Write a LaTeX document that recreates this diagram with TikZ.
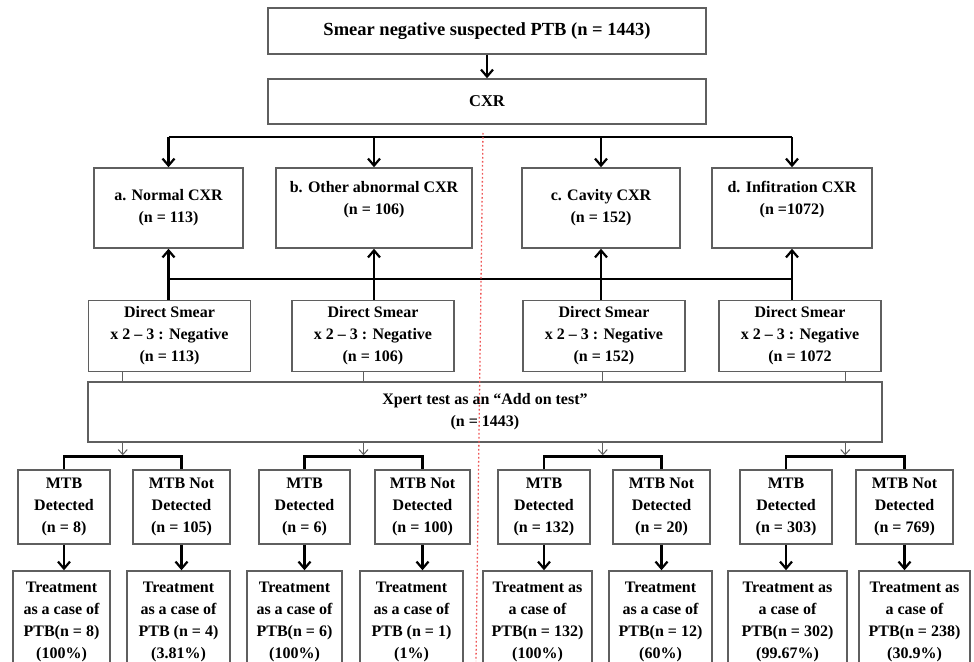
\documentclass[tikz,border=0pt]{standalone}
\usepackage{xcolor}
\usepackage{fontspec}
\setmainfont{Liberation Serif}
\usepackage{tikz}
\usetikzlibrary{arrows.meta}
\usetikzlibrary{calc,positioning}

\definecolor{boxgray}{RGB}{95,95,95}
\definecolor{splitred}{RGB}{238,85,85}

\tikzset{
    box/.style={draw=boxgray, line width=1.5pt, align=center, inner sep=2pt,
        font=\bfseries\fontsize{16}{22}\selectfont},
    boxtext/.style={align=center, font=\bfseries\fontsize{16}{22}\selectfont},
    link/.style={line width=2.6pt},
    flow/.style={line width=2.6pt, -{Straight Barb[length=7pt,width=12pt,line width=2.2pt]}},
    feed/.style={draw=boxgray, line width=1pt},
    feedarrow/.style={feed, -{Straight Barb[length=5pt,width=9pt,line width=1pt]}},
}

\begin{document}
\begin{tikzpicture}[x=1pt,y=-1pt]

    \useasboundingbox (0,0) rectangle (974,661);
    \clip (0,0) rectangle (974,661);

    % Top
    \node[box, minimum width=438pt, minimum height=46pt, font=\bfseries\fontsize{18.5}{22}\selectfont] (top) at (487,31) {Smear negative suspected PTB (n = 1443)};
    \node[box, minimum width=438pt, minimum height=45pt, font=\bfseries\fontsize{16.5}{22}\selectfont] (cxr) at (487,101.5) {CXR};
    \draw[flow] (top) -- (cxr);

    % CXR groups
    \node[box, minimum width=149pt, minimum height=80pt] (a) at (168.5,208) {a. Normal CXR\\(n = 113)};
    \node[box, minimum width=196pt, minimum height=80pt] (b) at (374,208) {};
    \node[boxtext] (btext) at (374,200) {b. Other abnormal CXR\\(n = 106)};
    \node[box, minimum width=158pt, minimum height=80pt] (c) at (601,208) {c. Cavity CXR\\(n = 152)};
    \node[box, minimum width=160pt, minimum height=80pt] (d) at (792,208) {};
    \node[boxtext] (dtext) at (792,200) {d. Infitration CXR\\(n =1072)};

    \coordinate (split) at (487,137);
    \draw[link] (a.north |- split) -- (d.north |- split);
    \foreach \g in {a,b,c,d} {
        \draw[flow] (\g.north |- split) -- (\g.north);
    }

    % Direct smear
    \foreach \i/\x/\n in {1/169.5/{(n = 113)}, 2/373/{(n = 106)}, 3/604/{(n = 152)}, 4/800/{(n = 1072}} {
        \node[box, minimum width=162pt, minimum height=71pt] (ds\i) at (\x,336) {Direct Smear\\x 2 -- 3 : Negative\\\n};
    }

    \coordinate (join) at (487,279);
    \draw[link] (a.south |- join) -- (d.south |- join);
    \foreach \g/\i in {a/1,b/2,c/3,d/4} {
        \draw[flow] (\g.south |- join) -- (\g.south);
        \draw[link] (\g.south |- join) -- (\g.south |- ds\i.north);
    }

    % Xpert
    \node[box, minimum width=794pt, minimum height=60pt] (xpert) at (485,412) {Xpert test as an “Add on test”\\(n = 1443)};

    % MTB results
    \foreach \i/\x/\w/\t in {
        1/64/92/{MTB\\Detected\\(n = 8)},
        2/181.5/97/{MTB Not\\Detected\\(n = 105)},
        3/304.5/91/{MTB\\Detected\\(n = 6)},
        4/422.5/95/{MTB Not\\Detected\\(n = 100)},
        5/544/92/{MTB\\Detected\\(n = 132)},
        6/661.5/97/{MTB Not\\Detected\\(n = 20)},
        7/786/92/{MTB\\Detected\\(n = 303)},
        8/904.5/97/{MTB Not\\Detected\\(n = 769)}} {
        \node[box, minimum width=\w pt, minimum height=74pt] (mtb\i) at (\x,507) {\t};
    }

    % Treatment
    \foreach \i/\x/\w/\t in {
        1/61.5/97/{Treatment\\as a case of\\PTB(n = 8)\\(100\%)},
        2/178.5/103/{Treatment\\as a case of\\PTB (n = 4)\\(3.81\%)},
        3/294.5/95/{Treatment\\as a case of\\PTB(n = 6)\\(100\%)},
        4/411.5/103/{Treatment\\as a case of\\PTB (n = 1)\\(1\%)},
        5/537.5/109/{Treatment as\\a case of\\PTB(n = 132)\\(100\%)},
        6/660.5/103/{Treatment\\as a case of\\PTB(n = 12)\\(60\%)},
        7/787.5/119/{Treatment as\\a case of\\PTB(n = 302)\\(99.67\%)},
        8/914.5/111/{Treatment as\\a case of\\PTB(n = 238)\\(30.9\%)}} {
        \node[box, minimum width=\w pt, minimum height=102pt] (trt\i) at (\x,622) {\t};
        \draw[flow] (mtb\i.south) -- (mtb\i.south |- trt\i.north);
    }

    % Feeds and brackets
    \foreach \i/\l/\r in {1/1/2, 2/3/4, 3/5/6, 4/7/8} {
        \coordinate (s\i) at ($(mtb\l.north)!0.5!(mtb\r.north) + (0,-13)$);
        \draw[feed] (s\i |- ds\i.south) -- (s\i |- xpert.north);
        \draw[feedarrow] (s\i |- xpert.south) -- ([yshift=1pt]s\i);
        \draw[link] (mtb\l.north) |- (s\i) -| (mtb\r.north);
    }

    % Red split
    \draw[splitred, line width=1.3pt, dash pattern=on 1.6pt off 2.4pt] (483,133) -- (476,661);

\end{tikzpicture}
\end{document}
